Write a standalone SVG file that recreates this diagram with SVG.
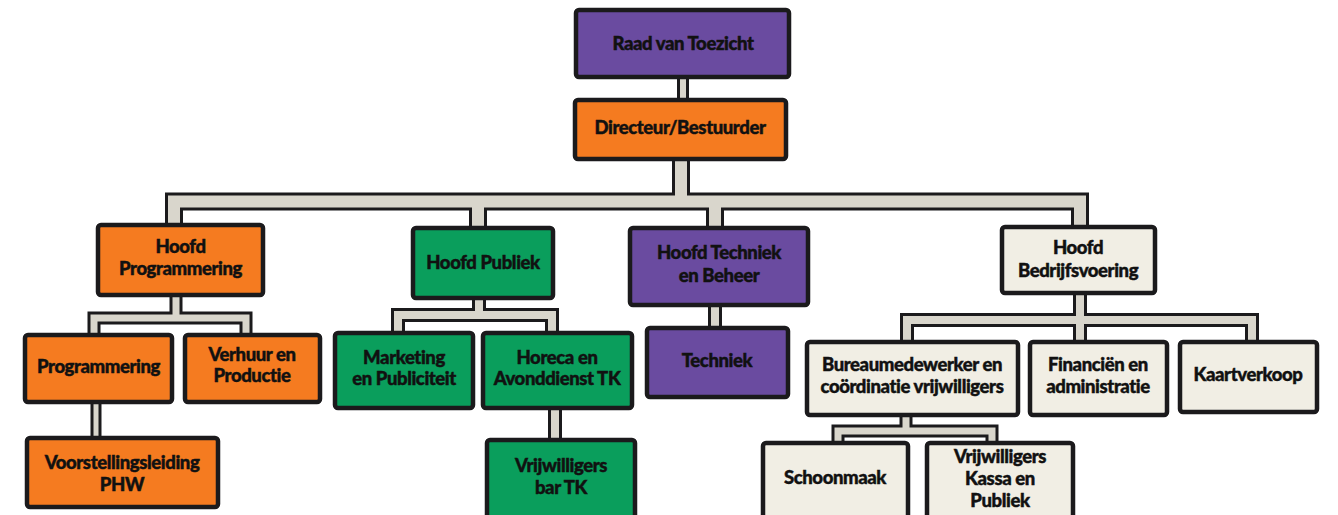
<svg xmlns="http://www.w3.org/2000/svg" width="1338" height="515" viewBox="0 0 1338 515">
<style>
.box{stroke:#1b1a1c;stroke-width:4.5;stroke-linejoin:round}
.p{fill:#6a4ba0}.o{fill:#f57b20}.g{fill:#0a9e5c}.c{fill:#f1eee4}
text{font-family:Lato,"Liberation Sans",sans-serif;font-weight:900;font-size:18.5px;fill:#111;stroke:#111;stroke-width:0.45px;text-anchor:middle;dominant-baseline:central;letter-spacing:-0.4px;transform:translateY(-1.5px)}
.pipeO{fill:none;stroke:#1b1a1c;stroke-linejoin:miter;stroke-linecap:butt}
.pipeI{fill:none;stroke:#d9d6cc;stroke-linejoin:miter;stroke-linecap:butt}
</style>
<rect width="1338" height="515" fill="#ffffff"/>
<g id="connectors">
  <g class="pipeO">
    <path d="M683,75 V102" stroke-width="12"/>
    <path d="M174,227 V201.5 H1080 V229 M681,156 V201.5 M478,201.5 V230 M715,201.5 V230" stroke-width="18"/>
    <path d="M94,337 V318 H246 V337 M176,293 V318" stroke-width="13"/>
    <path d="M96,400 V440" stroke-width="11"/>
    <path d="M398,335 V315 H552 V335 M479,296 V315" stroke-width="14"/>
    <path d="M555,406 V442" stroke-width="14"/>
    <path d="M715,303 V330" stroke-width="14"/>
    <path d="M907,344 V320 H1252 V344 M1080,291 V344" stroke-width="14"/>
    <path d="M838,445 V431 H992 V445 M906,413 V431" stroke-width="13"/>
  </g>
  <g class="pipeI">
    <path d="M683,75 V102" stroke-width="6"/>
    <path d="M174,227 V201.5 H1080 V229 M681,156 V201.5 M478,201.5 V230 M715,201.5 V230" stroke-width="12"/>
    <path d="M94,337 V318 H246 V337 M176,293 V318" stroke-width="7"/>
    <path d="M96,400 V440" stroke-width="5"/>
    <path d="M398,335 V315 H552 V335 M479,296 V315" stroke-width="8"/>
    <path d="M555,406 V442" stroke-width="8"/>
    <path d="M715,303 V330" stroke-width="8"/>
    <path d="M907,344 V320 H1252 V344 M1080,291 V344" stroke-width="8"/>
    <path d="M838,445 V431 H992 V445 M906,413 V431" stroke-width="7"/>
  </g>
</g>
<g id="raad"><rect class="box p" x="576" y="10" width="213" height="67" rx="3"/><text x="683" y="44">Raad van Toezicht</text></g>
<g id="directeur"><rect class="box o" x="575" y="100" width="211" height="59" rx="3"/><text x="680" y="128">Directeur/Bestuurder</text></g>
<g id="hoofd-programmering"><rect class="box o" x="98" y="225" width="165" height="70" rx="3"/><text x="180.5" y="247">Hoofd</text><text x="180.5" y="269">Programmering</text></g>
<g id="hoofd-publiek"><rect class="box g" x="413" y="228" width="140" height="70" rx="3"/><text x="483" y="263">Hoofd Publiek</text></g>
<g id="hoofd-techniek"><rect class="box p" x="630" y="228" width="178" height="77" rx="3"/><text x="719" y="253">Hoofd Techniek</text><text x="719" y="276">en Beheer</text></g>
<g id="hoofd-bedrijfsvoering"><rect class="box c" x="1002" y="227" width="153" height="66" rx="3"/><text x="1078" y="248">Hoofd</text><text x="1078" y="271">Bedrijfsvoering</text></g>
<g id="programmering"><rect class="box o" x="25" y="335" width="147" height="67" rx="3"/><text x="98.5" y="367">Programmering</text></g>
<g id="verhuur"><rect class="box o" x="185" y="335" width="135" height="67" rx="3"/><text x="252" y="355">Verhuur en</text><text x="252" y="376">Productie</text></g>
<g id="voorstellingsleiding"><rect class="box o" x="27" y="438" width="191" height="69" rx="3"/><text x="122" y="463">Voorstellingsleiding</text><text x="122" y="485">PHW</text></g>
<g id="marketing"><rect class="box g" x="335" y="333" width="138" height="75" rx="3"/><text x="404" y="358">Marketing</text><text x="404" y="379">en Publiciteit</text></g>
<g id="horeca"><rect class="box g" x="483" y="333" width="149" height="75" rx="3"/><text x="557" y="358">Horeca en</text><text x="557" y="379">Avonddienst TK</text></g>
<g id="vrijwilligers-bar"><rect class="box g" x="487" y="440" width="148" height="90" rx="3"/><text x="561" y="466">Vrijwilligers</text><text x="561" y="488">bar TK</text></g>
<g id="techniek"><rect class="box p" x="647" y="328" width="141" height="69" rx="3"/><text x="717" y="361">Techniek</text></g>
<g id="bureaumedewerker"><rect class="box c" x="807" y="342" width="211" height="73" rx="3"/><text x="912" y="365">Bureaumedewerker en</text><text x="912" y="387">coördinatie vrijwilligers</text></g>
<g id="financien"><rect class="box c" x="1030" y="342" width="137" height="73" rx="3"/><text x="1098" y="365">Financiën en</text><text x="1098" y="387">administratie</text></g>
<g id="kaartverkoop"><rect class="box c" x="1180" y="342" width="137" height="70" rx="3"/><text x="1248" y="375">Kaartverkoop</text></g>
<g id="schoonmaak"><rect class="box c" x="763" y="443" width="145" height="90" rx="3"/><text x="835" y="478">Schoonmaak</text></g>
<g id="vrijwilligers-kassa"><rect class="box c" x="927" y="443" width="146" height="90" rx="3"/><text x="1000" y="457">Vrijwilligers</text><text x="1000" y="479">Kassa en</text><text x="1000" y="501">Publiek</text></g>
</svg>
